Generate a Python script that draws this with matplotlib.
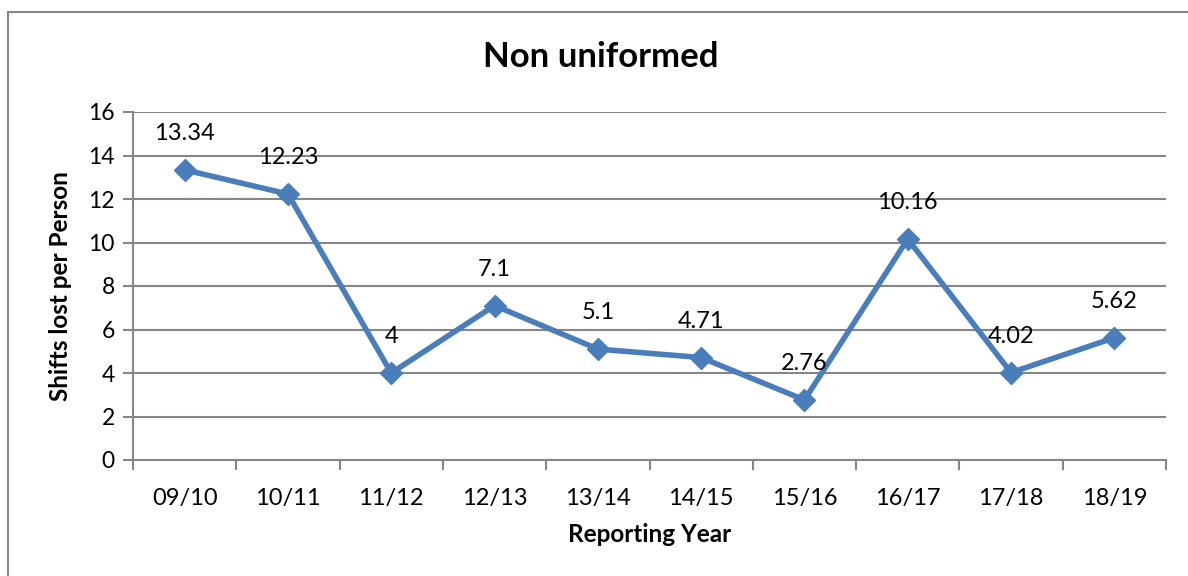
import matplotlib
matplotlib.use("Agg")
import matplotlib.pyplot as plt
from matplotlib.patches import Rectangle

categories = ["09/10", "10/11", "11/12", "12/13", "13/14", "14/15", "15/16", "16/17", "17/18", "18/19"]
values = [13.34, 12.23, 4, 7.1, 5.1, 4.71, 2.76, 10.16, 4.02, 5.62]
labels = ["13.34", "12.23", "4", "7.1", "5.1", "4.71", "2.76", "10.16", "4.02", "5.62"]
yticks = [0, 2, 4, 6, 8, 10, 12, 14, 16]

plt.rcParams['font.family'] = ['Lato', 'DejaVu Sans']

fig = plt.figure(figsize=(11.88, 5.76), dpi=100)
ax = fig.add_axes([133/1188, 1 - 460/576, (1166 - 133)/1188, (460 - 112)/576])

grey = "#868686"
blue = "#4A7EBB"

x = list(range(len(categories)))
ax.plot(x, values, color=blue, lw=4, marker='D', ms=11, mfc=blue, mec=blue, zorder=3, clip_on=False)
for xi, v, lab in zip(x, values, labels):
    ax.annotate(lab, (xi, v), xytext=(0, 26), textcoords='offset points',
                ha='center', va='center', fontsize=17, color='black')

ax.set_xlim(-0.5, len(categories) - 0.5)
ax.set_ylim(0, 16)
ax.set_yticks(yticks)
ax.set_yticklabels([str(t) for t in yticks], fontsize=16.5)
ax.set_xticks(x)
ax.set_xticklabels(categories, fontsize=17)
ax.set_xticks([i - 0.5 for i in range(len(categories) + 1)], minor=True)
ax.tick_params(axis='x', which='major', length=0, pad=20)
ax.tick_params(axis='x', which='minor', length=7, width=1.5, color=grey)
ax.tick_params(axis='y', length=7, width=1.5, color=grey, pad=6)

ax.grid(axis='y', color=grey, lw=1.5)
ax.set_axisbelow(True)
for s in ['top', 'right']:
    ax.spines[s].set_visible(False)
for s in ['left', 'bottom']:
    ax.spines[s].set_color(grey)
    ax.spines[s].set_linewidth(1.5)

ax.set_xlabel("Reporting Year", fontsize=17.5, fontweight='bold', labelpad=10)
ax.set_ylabel("Shifts lost per Person", fontsize=17.5, fontweight='bold', labelpad=12)
fig.text(601/1188, 1 - 57/576, "Non uniformed", ha='center', va='center', fontsize=25, fontweight='bold')

fig.patches.append(Rectangle((8/1188, -0.1), 1.2, 1 - 12/576 + 0.1, transform=fig.transFigure,
                             fill=False, edgecolor=grey, lw=1.5))

fig.savefig("out.png", dpi=100)
